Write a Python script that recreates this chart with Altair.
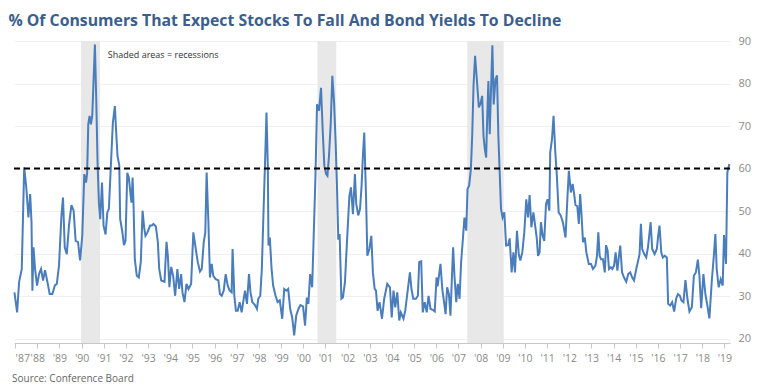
import altair as alt
import pandas as pd

years = [1986.97, 1987.09, 1987.18, 1987.30, 1987.41, 1987.51, 1987.60, 1987.68, 1987.74, 1987.78,
         1987.83, 1987.90, 1987.99, 1988.08, 1988.17, 1988.26, 1988.35, 1988.46, 1988.56, 1988.68,
         1988.79, 1988.88, 1988.98, 1989.09, 1989.16, 1989.24, 1989.33, 1989.43, 1989.54, 1989.64,
         1989.73, 1989.84, 1989.93, 1990.03, 1990.12, 1990.20, 1990.25, 1990.30, 1990.36, 1990.42,
         1990.48, 1990.53, 1990.60, 1990.66, 1990.72, 1990.78, 1990.84, 1990.92, 1990.99, 1991.08,
         1991.16, 1991.23, 1991.32, 1991.41, 1991.50, 1991.56, 1991.62, 1991.70, 1991.74, 1991.83,
         1991.91, 1991.98, 1992.06, 1992.13, 1992.19, 1992.25, 1992.30, 1992.34, 1992.40, 1992.49,
         1992.58, 1992.67, 1992.75, 1992.82, 1992.88, 1992.97, 1993.09, 1993.17, 1993.24, 1993.35,
         1993.44, 1993.50, 1993.59, 1993.74, 1993.83, 1993.89, 1993.96, 1994.04, 1994.13, 1994.22,
         1994.32, 1994.40, 1994.49, 1994.55, 1994.64, 1994.73, 1994.82, 1994.94, 1995.04, 1995.15,
         1995.24, 1995.34, 1995.42, 1995.51, 1995.58, 1995.64, 1995.72, 1995.79, 1995.87, 1995.94,
         1996.05, 1996.17, 1996.24, 1996.32, 1996.41, 1996.50, 1996.59, 1996.68, 1996.77, 1996.81,
         1996.89, 1996.96, 1997.04, 1997.13, 1997.22, 1997.29, 1997.37, 1997.46, 1997.55, 1997.62,
         1997.70, 1997.82, 1997.91, 1997.97, 1998.06, 1998.13, 1998.21, 1998.28, 1998.34, 1998.40,
         1998.43, 1998.49, 1998.57, 1998.64, 1998.75, 1998.84, 1998.94, 1999.05, 1999.14, 1999.24,
         1999.32, 1999.41, 1999.50, 1999.59, 1999.68, 1999.78, 1999.87, 1999.99, 2000.08, 2000.16,
         2000.23, 2000.31, 2000.40, 2000.47, 2000.55, 2000.62, 2000.71, 2000.80, 2000.88, 2000.95,
         2001.03, 2001.09, 2001.16, 2001.24, 2001.31, 2001.39, 2001.46, 2001.52, 2001.58, 2001.64,
         2001.72, 2001.79, 2001.88, 2001.97, 2002.08, 2002.15, 2002.24, 2002.33, 2002.39, 2002.48,
         2002.56, 2002.63, 2002.69, 2002.75, 2002.83, 2002.89, 2002.98, 2003.07, 2003.14, 2003.22,
         2003.28, 2003.35, 2003.44, 2003.55, 2003.65, 2003.79, 2003.91, 2003.99, 2004.07, 2004.15,
         2004.24, 2004.33, 2004.40, 2004.52, 2004.60, 2004.70, 2004.81, 2004.88, 2004.96, 2005.08,
         2005.17, 2005.23, 2005.32, 2005.39, 2005.48, 2005.57, 2005.65, 2005.74, 2005.84, 2005.93,
         2006.01, 2006.06, 2006.12, 2006.19, 2006.27, 2006.34, 2006.42, 2006.49, 2006.57, 2006.64,
         2006.72, 2006.76, 2006.82, 2006.90, 2006.97, 2007.05, 2007.12, 2007.20, 2007.27, 2007.35,
         2007.41, 2007.48, 2007.56, 2007.62, 2007.68, 2007.75, 2007.83, 2007.92, 2007.99, 2008.07,
         2008.13, 2008.19, 2008.25, 2008.29, 2008.35, 2008.41, 2008.47, 2008.53, 2008.59, 2008.67,
         2008.74, 2008.80, 2008.86, 2008.92, 2008.99, 2009.07, 2009.15, 2009.24, 2009.31, 2009.40,
         2009.48, 2009.55, 2009.64, 2009.72, 2009.79, 2009.88, 2009.97, 2010.06, 2010.14, 2010.21,
         2010.29, 2010.38, 2010.45, 2010.53, 2010.59, 2010.66, 2010.72, 2010.80, 2010.87, 2010.95,
         2011.02, 2011.10, 2011.14, 2011.22, 2011.29, 2011.37, 2011.44, 2011.52, 2011.62, 2011.71,
         2011.83, 2011.92, 2011.98, 2012.07, 2012.15, 2012.22, 2012.28, 2012.36, 2012.43, 2012.49,
         2012.55, 2012.62, 2012.70, 2012.77, 2012.88, 2012.98, 2013.07, 2013.18, 2013.25, 2013.31,
         2013.37, 2013.43, 2013.52, 2013.60, 2013.66, 2013.73, 2013.79, 2013.87, 2013.94, 2014.02,
         2014.09, 2014.17, 2014.24, 2014.30, 2014.38, 2014.47, 2014.57, 2014.66, 2014.75, 2014.84,
         2014.92, 2015.02, 2015.13, 2015.17, 2015.23, 2015.29, 2015.38, 2015.47, 2015.55, 2015.62,
         2015.67, 2015.74, 2015.85, 2015.95, 2016.01, 2016.07, 2016.15, 2016.22, 2016.31, 2016.40,
         2016.46, 2016.55, 2016.64, 2016.73, 2016.82, 2016.90, 2016.99, 2017.06, 2017.15, 2017.24,
         2017.33, 2017.42, 2017.53, 2017.62, 2017.71, 2017.80, 2017.87, 2017.95, 2018.05, 2018.14,
         2018.23, 2018.32, 2018.43, 2018.52, 2018.59, 2018.65, 2018.74, 2018.83, 2018.92, 2018.98,
         2019.07, 2019.13, 2019.22]

values = [30.9, 26.2, 33.3, 36.4, 60.3, 55.2, 48.5, 54.0, 47.4, 31.3,
          41.5, 36.4, 32.5, 35.2, 36.4, 33.7, 36.1, 33.3, 30.5, 30.5,
          32.5, 32.9, 37.2, 48.9, 53.2, 41.5, 39.9, 46.6, 51.4, 50.1,
          43.0, 42.7, 38.4, 44.2, 58.7, 56.7, 59.0, 70.4, 72.4, 70.4,
          72.4, 79.4, 89.2, 76.3, 61.4, 52.0, 48.1, 56.7, 46.6, 44.5,
          49.7, 50.5, 60.7, 70.8, 74.7, 68.5, 63.0, 60.7, 48.1, 45.4,
          42.0, 43.0, 59.0, 57.9, 54.8, 52.0, 57.9, 52.0, 38.7, 34.8,
          34.4, 38.0, 50.1, 46.2, 44.2, 45.0, 46.6, 46.6, 47.0, 46.4,
          42.7, 36.4, 33.7, 33.4, 42.8, 39.5, 32.1, 36.9, 34.8, 30.1,
          36.4, 31.7, 35.2, 30.9, 28.6, 32.9, 31.7, 32.9, 45.0, 41.1,
          38.0, 35.8, 36.4, 42.7, 45.0, 59.1, 47.4, 34.4, 37.6, 34.8,
          34.0, 33.7, 30.5, 30.1, 31.3, 35.2, 32.5, 31.3, 30.9, 41.1,
          30.1, 26.6, 26.6, 28.6, 26.2, 28.6, 31.3, 28.2, 35.2, 30.9,
          28.6, 27.9, 27.0, 29.4, 30.1, 36.4, 50.5, 62.2, 73.2, 60.7,
          41.9, 43.8, 36.4, 32.5, 30.1, 28.6, 29.0, 24.7, 31.7, 31.3,
          31.7, 27.0, 25.0, 20.8, 25.4, 27.0, 27.9, 27.6, 23.1, 29.7,
          28.2, 35.2, 32.1, 44.2, 58.3, 75.1, 73.6, 79.0, 68.5, 60.7,
          58.7, 58.3, 63.0, 70.8, 81.8, 75.5, 66.1, 56.0, 43.3, 44.6,
          29.4, 29.7, 33.3, 42.7, 53.6, 55.6, 49.3, 58.7, 51.7, 49.0,
          50.5, 56.0, 63.0, 68.5, 53.6, 39.5, 41.1, 44.2, 35.6, 31.7,
          31.3, 26.6, 28.6, 24.7, 29.4, 32.9, 32.1, 25.0, 31.3, 27.4,
          30.9, 24.3, 26.2, 24.7, 26.6, 30.9, 35.6, 31.7, 29.4, 29.4,
          30.1, 38.0, 38.2, 26.2, 28.6, 26.2, 30.1, 27.0, 26.8, 26.4,
          34.4, 32.3, 34.8, 37.6, 31.7, 29.0, 25.8, 32.1, 30.5, 25.4,
          36.4, 41.5, 34.8, 28.6, 32.9, 29.4, 38.0, 43.4, 48.5, 45.4,
          55.2, 56.0, 59.8, 67.7, 79.4, 86.5, 81.0, 74.4, 75.2, 77.1,
          67.7, 64.6, 62.6, 70.8, 80.6, 68.1, 78.6, 89.0, 75.1, 81.0,
          81.9, 67.7, 59.1, 50.5, 48.5, 49.7, 41.9, 42.0, 43.6, 35.6,
          40.3, 35.6, 45.4, 39.9, 38.4, 40.3, 45.0, 52.8, 48.5, 53.8,
          46.2, 49.7, 47.0, 43.8, 39.5, 40.3, 47.4, 44.2, 43.0, 51.7,
          52.8, 50.1, 63.8, 66.9, 72.4, 63.8, 58.3, 49.7, 48.9, 47.4,
          43.8, 53.6, 59.5, 54.4, 56.4, 54.0, 51.4, 51.2, 47.0, 54.0,
          49.3, 42.7, 43.8, 40.3, 37.6, 37.6, 36.4, 37.2, 39.5, 45.0,
          39.5, 38.7, 38.7, 35.6, 42.0, 40.7, 36.4, 36.8, 36.4, 37.2,
          40.3, 36.0, 39.5, 41.9, 35.6, 34.4, 33.4, 35.2, 35.6, 34.4,
          33.7, 36.4, 38.9, 39.9, 47.0, 41.1, 39.9, 39.1, 41.5, 45.0,
          47.4, 41.1, 39.9, 41.1, 44.2, 46.6, 40.3, 39.1, 39.5, 39.1,
          28.2, 27.8, 28.6, 26.4, 29.4, 30.5, 30.1, 29.0, 28.6, 33.8,
          29.4, 26.4, 27.4, 34.8, 35.6, 38.6, 34.8, 27.2, 35.2, 30.5,
          27.8, 24.8, 33.7, 39.5, 44.6, 36.4, 32.1, 34.0, 32.5, 44.4,
          37.6, 59.1, 61.1]

rec_start = [1989.97, 2000.64, 2007.40]
rec_end = [1990.83, 2001.49, 2009.04]

tick_years = list(range(1987, 2020))
y_ticks = [20, 30, 40, 50, 60, 70, 80, 90]
threshold = 60

title_text = "% Of Consumers That Expect Stocks To Fall And Bond Yields To Decline"
note_text = "Shaded areas = recessions"
source_text = "Source: Conference Board"

W, H = 716, 302
FONT = "Open Sans"

df = pd.DataFrame({"year": years, "value": values})
rec = pd.DataFrame({"start": rec_start, "end": rec_end})
note = pd.DataFrame({"year": [1991.18], "value": [86.7], "t": [note_text]})

xscale = alt.Scale(domain=[1986.95, 2019.25], nice=False, zero=False)
yscale = alt.Scale(domain=[19, 90], nice=False, zero=False)

xaxis = alt.Axis(values=tick_years, grid=False, title=None,
                 labelExpr="\"'\" + (datum.value % 100 < 10 ? '0' : '') + (datum.value % 100)",
                 domainColor="#c8c8c8", tickColor="#c8c8c8", tickSize=5,
                 labelOverlap=False, labelFlush=3,
                 labelColor="#8a8a8a", labelFontSize=10.5, labelFont=FONT, labelPadding=5)
yaxis = alt.Axis(orient="right", values=y_ticks, title=None, domain=False, ticks=False,
                 gridColor="#f0f0f0", gridWidth=1,
                 labelColor="#8a8a8a", labelFontSize=11, labelFont=FONT, labelPadding=8)

shade = alt.Chart(rec).mark_rect(color="#e8e8e8").encode(
    x=alt.X("start:Q", scale=xscale, axis=xaxis),
    x2="end:Q",
)

line = alt.Chart(df).mark_line(color="#4a7dbb", strokeWidth=2).encode(
    x=alt.X("year:Q", scale=xscale, axis=xaxis),
    y=alt.Y("value:Q", scale=yscale, axis=yaxis),
)

rule = alt.Chart(pd.DataFrame({"v": [threshold]})).mark_rule(
    color="black", strokeWidth=2, strokeDash=[6, 4]
).encode(y=alt.Y("v:Q", scale=yscale, axis=yaxis))

note_mark = alt.Chart(note).mark_text(
    align="left", baseline="middle", fontSize=9, font=FONT, color="#333333"
).encode(
    x=alt.X("year:Q", scale=xscale, axis=xaxis),
    y=alt.Y("value:Q", scale=yscale, axis=yaxis),
    text="t:N",
)

source = alt.Chart(pd.DataFrame({"t": [source_text]})).mark_text(
    align="left", baseline="middle", fontSize=10, font=FONT, color="#666666"
).encode(x=alt.value(-2), y=alt.value(H + 36), text="t:N")

chart = alt.layer(shade, line, rule, note_mark, source).properties(
    width=W, height=H,
    padding={"left": 0, "top": 5, "right": 5, "bottom": 5},
    title=alt.TitleParams(title_text, anchor="start", font=FONT, fontSize=15.8,
                          fontWeight="bold", color="#3b5e8c", offset=5, dx=-2),
).configure_view(stroke=None)

chart.save("out.html", embed_options={"renderer": "svg", "actions": False})
